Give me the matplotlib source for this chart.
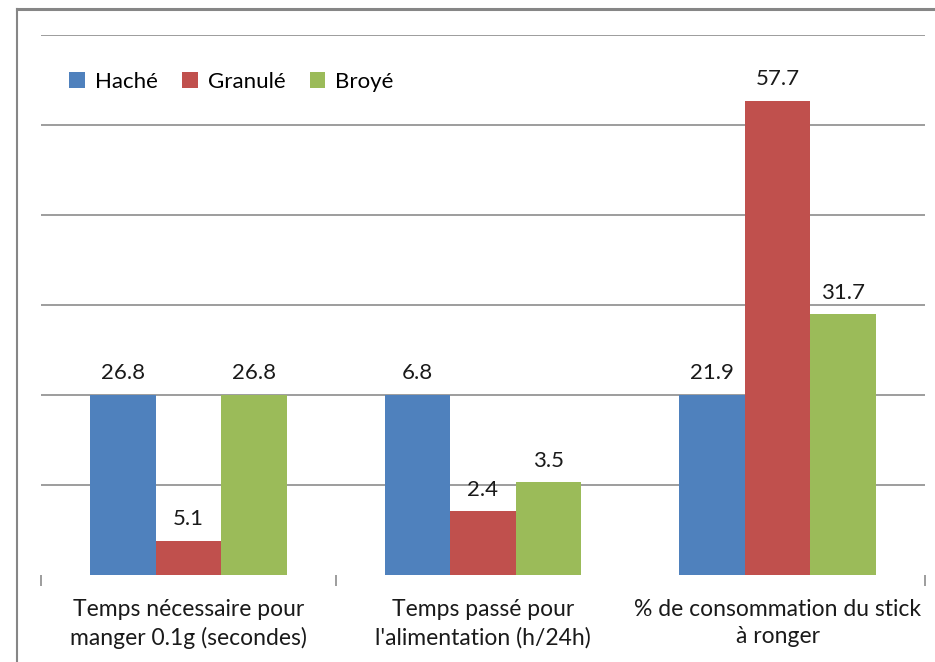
import matplotlib.pyplot as plt
from matplotlib.lines import Line2D
import numpy as np

plt.rcParams['font.family'] = ['Lato', 'DejaVu Sans']

categories = ["Temps nécessaire pour\nmanger 0.1g (secondes)",
              "Temps passé pour\nl'alimentation (h/24h)",
              "% de consommation du stick\nà ronger"]
series_names = ["Haché", "Granulé", "Broyé"]
hache = [26.8, 6.8, 21.9]
granule = [5.1, 2.4, 57.7]
broye = [26.8, 3.5, 31.7]
colors = ["#4f81bd", "#c0504d", "#9bbb59"]

# each group is scaled to its Haché value (Haché = 100)
values = np.array([hache, granule, broye])
relative = values / values[0] * 100

fig = plt.figure(figsize=(9.35, 6.62), dpi=100)
ax = fig.add_axes([41/935, 87/662, 884/935, 540/662])

x = np.arange(len(categories))
width = 1 / 4.5
for i, (name, col) in enumerate(zip(series_names, colors)):
    pos = x + (i - 1) * width
    ax.bar(pos, relative[i], width, color=col, label=name, zorder=3)
    for xp, h, v in zip(pos, relative[i], values[i]):
        ax.annotate(f"{v:.1f}", (xp, h), xytext=(0, 8.5),
                    textcoords="offset points", ha="center", va="bottom",
                    fontsize=16, color="#1a1a1a")

ax.set_xlim(-0.5, 2.5)
ax.set_ylim(0, 300)
ax.set_yticks(np.arange(50, 301, 50))
ax.yaxis.grid(True, color="#8c8c8c", linewidth=1.2)
ax.tick_params(axis="y", left=False, labelleft=False)
ax.set_xticks([-0.5, 0.5, 2.5])
ax.set_xticklabels([])
ax.set_xticks(x, minor=True)
ax.set_xticklabels(categories, minor=True, fontsize=16.5, linespacing=1.4,
                   color="#1a1a1a")
ax.tick_params(axis="x", which="major", length=8, color="#8c8c8c", width=1.2)
ax.tick_params(axis="x", which="minor", length=0, pad=17)
for s in ax.spines.values():
    s.set_visible(False)

ax.legend(loc="upper left", bbox_to_anchor=(0.022, 0.948), ncol=3,
          frameon=False, fontsize=16, handlelength=0.7, handleheight=0.7,
          handletextpad=0.45, columnspacing=1.1, borderaxespad=0)

# outer frame
fig.add_artist(Line2D([17/935, 1], [1 - 9/662] * 2, color="#868686",
                      linewidth=2.2, transform=fig.transFigure))
fig.add_artist(Line2D([17/935] * 2, [0, 1 - 9/662], color="#868686",
                      linewidth=1.5, transform=fig.transFigure))

fig.savefig("out.png", dpi=100)
